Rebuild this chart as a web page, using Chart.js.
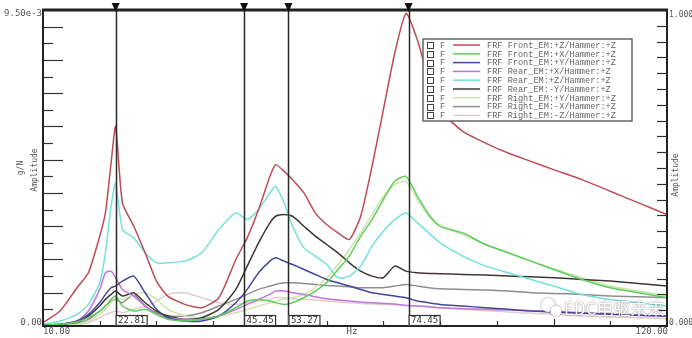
<!DOCTYPE html>
<html>
<head>
<meta charset="utf-8">
<script src="https://cdn.jsdelivr.net/npm/chart.js@4/dist/chart.umd.min.js"></script>
<style>
  html, body { margin: 0; padding: 0; background: #fff; }
</style>
</head>
<body>
<canvas id="frfChart" width="692" height="338"></canvas>
<script>
// frequency grid (Hz)
const freqs = [10, 13, 16, 18, 20, 21, 22, 22.8, 24, 26, 28, 30, 32, 35, 38, 41, 44, 46, 48, 50,
  51, 52.5, 54, 56, 58, 60, 62, 64, 66, 68, 70, 72, 74, 76, 78, 80, 84, 88, 92, 96, 100, 105, 110, 115, 120];

// amplitude in 1e-3 g/N
const frontZ = [0.1, 0.45, 1.15, 1.6, 2.7, 3.4, 4.9, 6.0, 3.7, 3.0, 2.2, 1.35, 0.9, 0.65, 0.55, 0.85, 2.0, 2.65, 3.5, 4.5,
  4.85, 4.65, 4.4, 4.0, 3.4, 3.05, 2.8, 2.6, 3.3, 4.8, 6.5, 8.2, 9.4, 8.6, 7.4, 6.5, 5.85, 5.5, 5.2, 4.95, 4.7, 4.4, 4.05, 3.7, 3.35];
const frontX = [0.02, 0.05, 0.12, 0.25, 0.45, 0.6, 0.8, 0.9, 0.6, 0.45, 0.5, 0.35, 0.2, 0.15, 0.2, 0.3, 0.55, 0.75, 0.8, 0.75,
  0.7, 0.65, 0.7, 0.85, 1.05, 1.3, 1.7, 2.1, 2.7, 3.2, 3.8, 4.35, 4.5, 3.9, 3.35, 3.0, 2.8, 2.45, 2.2, 1.95, 1.7, 1.4, 1.15, 1.0, 0.85];
const frontY = [0.02, 0.05, 0.15, 0.35, 0.7, 0.95, 1.15, 1.2, 1.35, 1.5, 1.0, 0.5, 0.25, 0.15, 0.15, 0.3, 0.7, 1.1, 1.6, 1.95,
  2.05, 1.95, 1.85, 1.7, 1.55, 1.4, 1.3, 1.2, 1.1, 1.0, 0.95, 0.9, 0.85, 0.75, 0.7, 0.65, 0.6, 0.55, 0.5, 0.45, 0.42, 0.38, 0.35, 0.32, 0.3];
const rearX = [0.02, 0.05, 0.15, 0.45, 1.1, 1.6, 1.65, 1.45, 1.1, 0.9, 0.6, 0.35, 0.25, 0.2, 0.2, 0.3, 0.5, 0.65, 0.8, 0.95,
  1.05, 1.05, 1.0, 0.95, 0.88, 0.82, 0.78, 0.75, 0.72, 0.7, 0.68, 0.66, 0.62, 0.6, 0.58, 0.55, 0.52, 0.5, 0.48, 0.46, 0.44, 0.4, 0.36, 0.32, 0.3];
const rearZ = [0.05, 0.15, 0.35, 0.65, 1.3, 2.2, 3.6, 4.3, 2.9, 2.65, 2.2, 1.9, 1.9, 1.95, 2.2, 2.9, 3.4, 3.2, 3.5, 4.0,
  4.2, 3.7, 3.0, 2.35, 2.1, 1.85, 1.45, 1.5, 1.8, 2.4, 2.85, 3.2, 3.4, 3.1, 2.8, 2.5, 2.1, 1.8, 1.6, 1.4, 1.2, 0.95, 0.8, 0.7, 0.6];
const rearY = [0.02, 0.05, 0.12, 0.3, 0.6, 0.8, 0.95, 1.05, 0.9, 1.0, 0.7, 0.45, 0.3, 0.2, 0.25, 0.5, 1.1, 1.8, 2.5, 3.1,
  3.3, 3.35, 3.3, 3.0, 2.7, 2.45, 2.2, 1.9, 1.65, 1.5, 1.45, 1.8, 1.65, 1.6, 1.58, 1.57, 1.55, 1.53, 1.5, 1.48, 1.45, 1.4, 1.35, 1.28, 1.2];
const rightY = [0.01, 0.02, 0.05, 0.15, 0.35, 0.5, 0.7, 0.85, 0.8, 0.95, 1.0, 0.8, 0.5, 0.3, 0.25, 0.3, 0.4, 0.5, 0.6, 0.7,
  0.75, 0.8, 0.85, 0.95, 1.15, 1.45, 1.85, 2.3, 2.8, 3.35, 3.9, 4.25, 4.35, 3.8, 3.3, 3.0, 2.75, 2.45, 2.2, 1.95, 1.72, 1.45, 1.2, 1.05, 0.9];
const rightX = [0.01, 0.03, 0.08, 0.2, 0.45, 0.6, 0.75, 0.8, 0.7, 0.95, 0.6, 0.4, 0.3, 0.3, 0.4, 0.6, 0.8, 0.95, 1.1, 1.2,
  1.25, 1.3, 1.3, 1.28, 1.25, 1.22, 1.2, 1.18, 1.15, 1.15, 1.15, 1.2, 1.25, 1.2, 1.15, 1.12, 1.1, 1.08, 1.05, 1.0, 0.98, 0.95, 0.9, 0.88, 0.85];
const rightZ = [0.01, 0.02, 0.05, 0.1, 0.25, 0.35, 0.4, 0.45, 0.4, 0.5, 0.6, 0.75, 0.95, 1.0, 0.85, 0.7, 0.65, 0.7, 0.75, 0.8,
  0.85, 0.85, 0.82, 0.8, 0.78, 0.75, 0.72, 0.7, 0.68, 0.66, 0.65, 0.64, 0.62, 0.6, 0.58, 0.55, 0.5, 0.46, 0.42, 0.38, 0.35, 0.3, 0.27, 0.25, 0.22];

const seriesLabels = [
  'FRF Front_EM:+Z/Hammer:+Z', 'FRF Front_EM:+X/Hammer:+Z', 'FRF Front_EM:+Y/Hammer:+Z',
  'FRF Rear_EM:+X/Hammer:+Z', 'FRF Rear_EM:+Z/Hammer:+Z', 'FRF Rear_EM:-Y/Hammer:+Z',
  'FRF Right_EM:+Y/Hammer:+Z', 'FRF Right_EM:-X/Hammer:+Z', 'FRF Right_EM:-Z/Hammer:+Z'
];
const seriesValues = [frontZ, frontX, frontY, rearX, rearZ, rearY, rightY, rightX, rightZ];
const seriesColors = ['#bf4a58', '#5ccf5c', '#45459a', '#c274dc', '#74e2d8', '#403636', '#cfe4ae', '#8e8e8e', '#e2cccc'];

const markerFreqs = [22.81, 45.45, 53.27, 74.45];
const xTickLabels = ['10.00', '120.00'];
const leftTickLabels = ['0.00', '9.50e-3'];
const rightTickLabels = ['0.000', '1.000'];

const datasets = seriesValues.map((vals, i) => ({
  label: seriesLabels[i],
  data: freqs.map((f, j) => ({ x: f, y: vals[j] })),
  borderColor: seriesColors[i],
  borderWidth: 1.5,
  pointRadius: 0,
  tension: 0.2,
  fill: false
}));

// frame, ticks, markers and legend drawn on top of the plot
const frfDecor = {
  id: 'frfDecor',
  afterDatasetsDraw(chart) {
    const { ctx, chartArea: a, scales } = chart;
    const x = scales.x, y = scales.y, y2 = scales.y2;
    ctx.save();

    // marker lines
    ctx.strokeStyle = '#2a2a2a';
    ctx.lineWidth = 1.5;
    markerFreqs.forEach(f => {
      const px = Math.round(x.getPixelForValue(f)) + 0.5;
      ctx.beginPath();
      ctx.moveTo(px, a.top);
      ctx.lineTo(px, a.bottom);
      ctx.stroke();
    });

    // axes frame
    ctx.strokeStyle = '#222';
    ctx.lineWidth = 2;
    ctx.beginPath();
    ctx.moveTo(a.left, a.top);
    ctx.lineTo(a.left, a.bottom);
    ctx.lineTo(a.right, a.bottom);
    ctx.lineTo(a.right, a.top);
    ctx.stroke();
    ctx.lineWidth = 3;
    ctx.beginPath();
    ctx.moveTo(a.left - 1, a.top);
    ctx.lineTo(a.right + 1, a.top);
    ctx.stroke();

    // left ticks (inward)
    ctx.lineWidth = 1.2;
    ctx.strokeStyle = '#333';
    for (let v = 0.5; v < 9.5; v += 0.5) {
      const py = Math.round(y.getPixelForValue(v)) + 0.5;
      const len = (v % 1 === 0) ? 20 : 10;
      ctx.beginPath();
      ctx.moveTo(a.left, py);
      ctx.lineTo(a.left + len, py);
      ctx.stroke();
    }
    // right ticks (inward)
    for (let v = 0.05; v < 0.999; v += 0.05) {
      const py = Math.round(y2.getPixelForValue(v)) + 0.5;
      ctx.beginPath();
      ctx.moveTo(a.right, py);
      ctx.lineTo(a.right - 10, py);
      ctx.stroke();
    }
    // bottom ticks
    for (let f = 20; f < 120; f += 10) {
      const px = Math.round(x.getPixelForValue(f)) + 0.5;
      const len = (f === 100) ? 7 : 5;
      ctx.beginPath();
      ctx.moveTo(px, a.bottom);
      ctx.lineTo(px, a.bottom - len);
      ctx.stroke();
    }

    // marker triangles and value boxes
    ctx.font = '9px "DejaVu Sans Mono"';
    ctx.textBaseline = 'middle';
    markerFreqs.forEach(f => {
      const px = x.getPixelForValue(f);
      ctx.fillStyle = '#111';
      ctx.beginPath();
      ctx.moveTo(px - 4, a.top - 7);
      ctx.lineTo(px + 4, a.top - 7);
      ctx.lineTo(px, a.top + 2);
      ctx.closePath();
      ctx.fill();

      ctx.fillStyle = '#fff';
      ctx.fillRect(px, a.bottom - 11, 31, 11);
      ctx.strokeStyle = '#333';
      ctx.lineWidth = 1.2;
      ctx.strokeRect(px + 0.5, a.bottom - 10.5, 31, 10);
      ctx.fillStyle = '#333';
      ctx.textAlign = 'center';
      ctx.fillText(f.toFixed(2), px + 16, a.bottom - 5);
    });

    // tick labels
    ctx.fillStyle = '#555';
    ctx.font = '9px "DejaVu Sans Mono"';
    ctx.textAlign = 'right';
    ctx.fillText(leftTickLabels[1], a.left - 1, a.top + 4);
    ctx.fillText(leftTickLabels[0], a.left - 1, a.bottom - 3);
    ctx.fillText(xTickLabels[1], a.right + 1, a.bottom + 6);
    ctx.textAlign = 'left';
    ctx.fillText(xTickLabels[0], a.left, a.bottom + 6);
    ctx.font = '8px "DejaVu Sans Mono"';
    ctx.fillText(rightTickLabels[1], a.right + 2, a.top + 5);
    ctx.fillText(rightTickLabels[0], a.right + 2, a.bottom - 3);
    ctx.font = '9px "DejaVu Sans Mono"';
    ctx.textAlign = 'center';
    ctx.fillText('Hz', 352, a.bottom + 6);

    // axis titles (rotated)
    ctx.font = '8px "DejaVu Sans Mono"';
    const vText = (t, cx, cy) => {
      ctx.save();
      ctx.translate(cx, cy);
      ctx.rotate(-Math.PI / 2);
      ctx.fillText(t, 0, 0);
      ctx.restore();
    };
    vText('g/N', 21, 168);
    vText('Amplitude', 35, 170);
    vText('Amplitude', 676, 175);

    // legend box
    const lx = 423, ly = 39, lw = 209, lh = 82;
    ctx.fillStyle = '#fff';
    ctx.fillRect(lx, ly, lw, lh);
    ctx.strokeStyle = '#666';
    ctx.lineWidth = 1.5;
    ctx.strokeRect(lx, ly, lw, lh);
    ctx.font = '8.6px "Liberation Mono"';
    ctx.textAlign = 'left';
    seriesLabels.forEach((lab, i) => {
      const cy = 45 + i * 8.8;
      ctx.strokeStyle = '#444';
      ctx.lineWidth = 1;
      ctx.strokeRect(427.5, Math.round(cy) - 2.5, 6, 6);
      ctx.fillStyle = '#666';
      ctx.fillText('F', 440, cy + 0.5);
      ctx.strokeStyle = seriesColors[i];
      ctx.lineWidth = 1.5;
      ctx.beginPath();
      ctx.moveTo(453, cy);
      ctx.lineTo(480, cy);
      ctx.stroke();
      ctx.fillStyle = '#666';
      ctx.fillText(lab, 487, cy + 0.5);
    });

    // watermark
    ctx.save();
    ctx.shadowColor = 'rgba(0,0,0,0.55)';
    ctx.shadowBlur = 2;
    ctx.fillStyle = '#fff';
    ctx.beginPath();
    ctx.arc(548, 305, 7, 0, Math.PI * 2);
    ctx.fill();
    ctx.beginPath();
    ctx.arc(556, 311, 5.5, 0, Math.PI * 2);
    ctx.fill();
    ctx.font = '17px "Noto Sans CJK SC"';
    ctx.textBaseline = 'alphabetic';
    ctx.fillText('EDC电驱未来', 564, 315);
    ctx.restore();

    ctx.restore();
  }
};

new Chart(document.getElementById('frfChart').getContext('2d'), {
  type: 'line',
  data: { datasets: datasets },
  options: {
    responsive: false,
    animation: false,
    layout: { padding: { left: 43, right: 25, top: 10, bottom: 12 } },
    plugins: { legend: { display: false }, tooltip: { enabled: false } },
    scales: {
      x: { type: 'linear', min: 10, max: 120, display: false },
      y: { min: 0, max: 9.5, display: false },
      y2: { min: 0, max: 1, display: false, position: 'right' }
    }
  },
  plugins: [frfDecor]
});
</script>
</body>
</html>
